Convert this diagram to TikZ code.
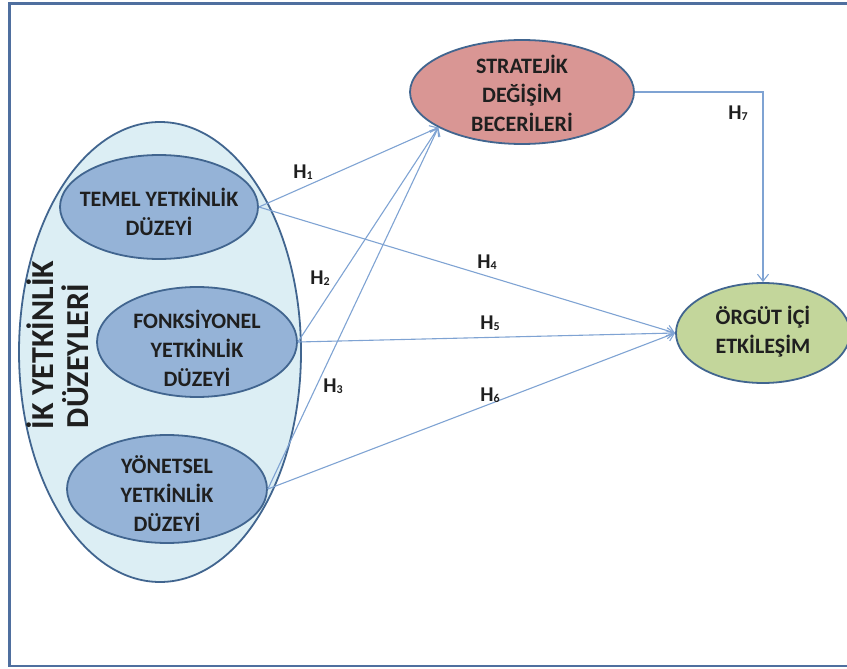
\documentclass[tikz,border=0pt]{standalone}
\usepackage{fontspec}
\setmainfont{Carlito}
\usetikzlibrary{shapes.geometric,arrows.meta}
\definecolor{framec}{HTML}{4F6F9F}
\definecolor{bigfill}{HTML}{DCEEF4}
\definecolor{edgec}{HTML}{41658F}
\definecolor{innerfill}{HTML}{95B3D7}
\definecolor{stratfill}{HTML}{D99694}
\definecolor{orgfill}{HTML}{C3D69B}
\definecolor{linec}{HTML}{7FA3D3}
\definecolor{txtc}{HTML}{1F1F1F}
\tikzset{
  ell/.style={ellipse, draw=edgec, line width=1.8pt, inner sep=0pt},
  boxtxt/.style={align=center, text=txtc, font=\fontsize{22}{29}\selectfont\bfseries},
  conn/.style={draw=linec, line width=1.1pt, -{Straight Barb[length=7pt,width=11pt,line width=1.1pt]}},
  hlab/.style={text=txtc, font=\fontsize{21}{21}\selectfont\bfseries, inner sep=0pt},
  sidetxt/.style={rotate=90, anchor=base, text=txtc, font=\fontsize{32}{32}\selectfont\bfseries, inner sep=0pt}
}
\newcommand{\hsub}[1]{H\raisebox{-1.5pt}{\fontsize{12}{12}\selectfont #1}}
\begin{document}
\begin{tikzpicture}[x=1pt,y=-1pt]
\useasboundingbox (0,0) rectangle (847,669);
% frame
\draw[framec, line width=2.6pt] (9.5,3.5) rectangle (880,666);
% big ellipse
\node[ell, fill=bigfill, minimum width=282, minimum height=460] (big) at (160,352) {};
\node[sidetxt] (side1) at (53,345) {İK YETKİNLİK};
\node[sidetxt] (side2) at (88,356) {DÜZEYLERİ};
% inner ellipses
\node[ell, fill=innerfill, minimum width=198, minimum height=104] (temel) at (159,207) {};
\node[boxtxt] (temelt) at (159,212) {TEMEL YETKİNLİK\\DÜZEYİ};
\node[ell, fill=innerfill, minimum width=200, minimum height=110] (fonk) at (197,342) {};
\node[boxtxt] (fonkt) at (197,348) {FONKSİYONEL\\YETKİNLİK\\DÜZEYİ};
\node[ell, fill=innerfill, minimum width=200, minimum height=108] (yonet) at (167,489) {};
\node[boxtxt] (yonett) at (167,494) {YÖNETSEL\\YETKİNLİK\\DÜZEYİ};
% right ellipses
\node[ell, fill=stratfill, minimum width=224, minimum height=104] (strat) at (522,92) {};
\node[boxtxt] (stratt) at (522,93) {STRATEJİK\\DEĞİŞİM\\BECERİLERİ};
\node[ell, fill=orgfill, minimum width=174, minimum height=100] (orgut) at (763,333) {};
\node[boxtxt] (orgutt) at (763,332) {ÖRGÜT İÇİ\\ETKİLEŞİM};
% connectors
\coordinate (sin) at (strat.203);
\coordinate (oin) at (orgut.west);
\draw[conn] (temel.east) -- (sin);
\draw[conn] (fonk.east) -- (sin);
\draw[conn] (yonet.east) -- (sin);
\draw[conn] (temel.east) -- (oin);
\draw[conn] (fonk.east) -- (oin);
\draw[conn] (yonet.east) -- (oin);
\draw[conn] (strat.east) -| (orgut.north);
% labels
\node[hlab] (h1) at (303,172) {\hsub{1}};
\node[hlab] (h2) at (320,278) {\hsub{2}};
\node[hlab] (h3) at (333,386) {\hsub{3}};
\node[hlab] (h4) at (487,262) {\hsub{4}};
\node[hlab] (h5) at (490,323) {\hsub{5}};
\node[hlab] (h6) at (490,395) {\hsub{6}};
\node[hlab] (h7) at (738,113) {\hsub{7}};
\end{tikzpicture}
\end{document}
